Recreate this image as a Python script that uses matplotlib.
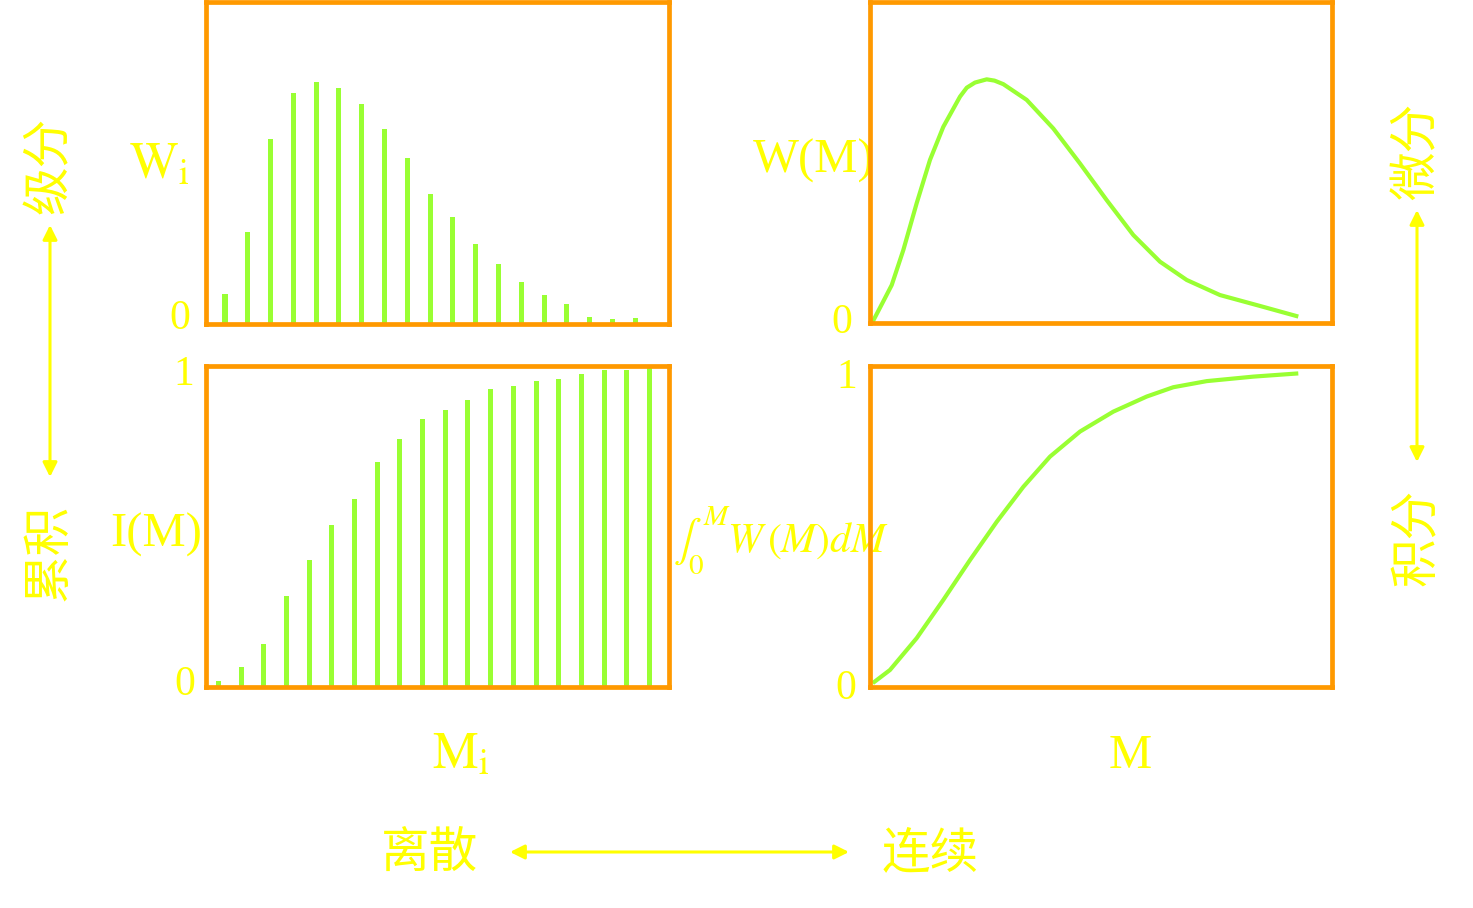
import matplotlib
matplotlib.use('Agg')
import matplotlib.pyplot as plt
import numpy as np

plt.rcParams['mathtext.fontset'] = 'stix'
plt.rcParams['font.family'] = ['Liberation Serif', 'DejaVu Serif']

orange = '#FF9900'
green = '#99FF33'
yellow = '#FFFF00'
cjk = ['Noto Sans CJK SC', 'DejaVu Sans']

# discrete: mass fraction W_i of each fraction i
wi_vals = [0.093, 0.286, 0.575, 0.717, 0.752, 0.733, 0.683, 0.606, 0.516, 0.404,
           0.332, 0.248, 0.186, 0.130, 0.090, 0.062, 0.022, 0.016, 0.019]
# discrete: cumulative fraction I(M_i)
ci_vals = [0.018, 0.061, 0.133, 0.282, 0.394, 0.503, 0.584, 0.699, 0.771, 0.833,
           0.861, 0.892, 0.927, 0.936, 0.951, 0.958, 0.973, 0.986, 0.986, 0.994]

# continuous: W(M)
w_m = [0.065, 0.3, 0.476, 0.727, 1.016, 1.304, 1.592, 1.953, 2.1, 2.278, 2.531,
       2.7, 2.89, 3.396, 3.971, 4.548, 5.125, 5.702, 6.279, 6.857, 7.577, 8.443, 9.271]
w_val = [0.005, 0.07, 0.119, 0.228, 0.374, 0.509, 0.612, 0.706, 0.734, 0.750, 0.760,
         0.756, 0.745, 0.696, 0.607, 0.498, 0.384, 0.275, 0.192, 0.135, 0.088, 0.054, 0.021]
# continuous: I(M)
i_m = [0.065, 0.439, 1.016, 1.592, 2.169, 2.747, 3.323, 3.9, 4.549, 5.269,
       5.992, 6.567, 7.290, 8.298, 9.271]
i_val = [0.012, 0.053, 0.152, 0.271, 0.395, 0.514, 0.623, 0.717, 0.795, 0.857,
         0.904, 0.933, 0.952, 0.966, 0.976]

W, H = 1473, 908
fig = plt.figure(figsize=(W / 100, H / 100), dpi=100)
fig.patch.set_facecolor('white')

# overlay in pixel coords for labels and arrows
bg = fig.add_axes([0, 0, 1, 1])
bg.set_xlim(0, W)
bg.set_ylim(H, 0)
bg.axis('off')
bg.patch.set_alpha(0)


def box(x0, y0, x1, y1):
    ax = fig.add_axes([x0 / W, 1 - y1 / H, (x1 - x0) / W, (y1 - y0) / H])
    ax.set_xticks([])
    ax.set_yticks([])
    ax.patch.set_alpha(0)
    for s in ax.spines.values():
        s.set_color(orange)
        s.set_linewidth(3.4)
    return ax


ax1 = box(206.3, 2.3, 669.3, 324.3)
ax1.bar(np.arange(1, len(wi_vals) + 1), wi_vals, width=0.22, color=green, zorder=1)
ax1.set_xlim(0.18, 20.49)
ax1.set_ylim(0, 1)

ax2 = box(206.3, 365.7, 669.3, 687)
ax2.bar(np.arange(1, len(ci_vals) + 1), ci_vals, width=0.22, color=green, zorder=1)
ax2.set_xlim(0.47, 20.87)
ax2.set_ylim(0, 1)

ax3 = box(869.7, 2.3, 1332, 323.3)
ax3.plot(w_m, w_val, color=green, lw=3, solid_capstyle='butt', solid_joinstyle='round')
ax3.set_xlim(0, 10)
ax3.set_ylim(0, 1)

ax4 = box(869.7, 365.7, 1332, 687)
ax4.plot(i_m, i_val, color=green, lw=3, solid_capstyle='butt', solid_joinstyle='round')
ax4.set_xlim(0, 10)
ax4.set_ylim(0, 1)

# axis labels
bg.text(129, 178, r'$\mathrm{W_i}$', fontsize=37, color=yellow, ha='left', va='baseline')
bg.text(753, 173, 'W(M)', fontsize=35, color=yellow, ha='left', va='baseline')
bg.text(110, 547, 'I(M)', fontsize=35, color=yellow, ha='left', va='baseline')
bg.text(432, 768, r'$\mathrm{M_i}$', fontsize=37, color=yellow, ha='left', va='baseline')
bg.text(1130, 768, 'M', fontsize=35, color=yellow, ha='center', va='baseline')
bg.text(673, 552, r'$\int_0^M W\,(M)dM$', fontsize=30, color=yellow, ha='left', va='baseline')

# tick labels
for x, y, s in [(180, 319, '0'), (184, 375, '1'), (184.5, 685, '0'),
                (842, 323, '0'), (847, 378, '1'), (846, 689, '0')]:
    bg.text(x, y, s, fontsize=30, color=yellow, ha='center', va='center')

# chinese labels
bg.text(49, 165, '级分', fontsize=35, color=yellow, family=cjk, rotation=90, ha='center', va='center')
bg.text(49, 552, '累积', fontsize=35, color=yellow, family=cjk, rotation=90, ha='center', va='center')
bg.text(1417, 151, '微分', fontsize=35, color=yellow, family=cjk, rotation=90, ha='center', va='center')
bg.text(1417, 537, '积分', fontsize=35, color=yellow, family=cjk, rotation=90, ha='center', va='center')
bg.text(430, 853, '离散', fontsize=35, color=yellow, family=cjk, ha='center', va='center')
bg.text(930, 853, '连续', fontsize=35, color=yellow, family=cjk, ha='center', va='center')

arrow = dict(arrowstyle='<|-|>,head_length=0.86,head_width=0.43', color=yellow,
             lw=2.2, shrinkA=0, shrinkB=0)
bg.annotate('', xy=(50, 225), xytext=(50, 477), arrowprops=arrow)
bg.annotate('', xy=(1417, 210), xytext=(1417, 462), arrowprops=arrow)
bg.annotate('', xy=(510, 852), xytext=(849, 852), arrowprops=arrow)

fig.savefig('out.png', dpi=100, facecolor='white')
